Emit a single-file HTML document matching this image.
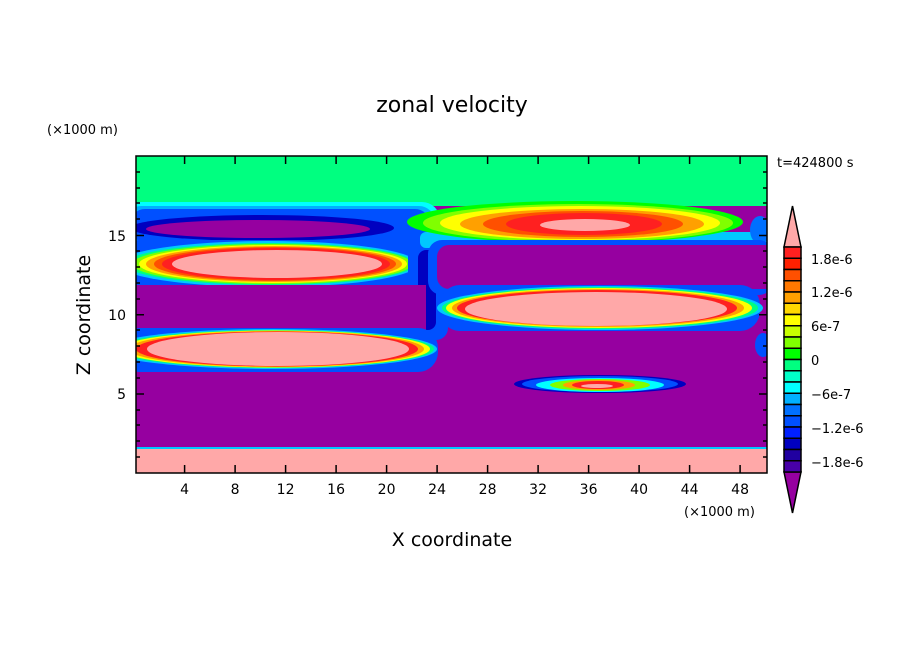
<!DOCTYPE html>
<html><head><meta charset="utf-8"><style>
body{margin:0;background:#fff;}
text{font-family:"DejaVu Sans","Liberation Sans",sans-serif;fill:#000}
</style></head><body>
<svg width="904" height="654" viewBox="0 0 904 654" xmlns="http://www.w3.org/2000/svg">
<defs><clipPath id="c"><rect x="136" y="156" width="631" height="317"/></clipPath></defs>
<g clip-path="url(#c)">
<rect x="136" y="156" width="631" height="317" fill="#9600a0"/>
<!-- top green -->
<rect x="136" y="156" width="631" height="50" fill="#00ff80"/>
<!-- left blue band -->
<rect x="120" y="202" width="320" height="42" rx="18" fill="#00ffff"/>
<rect x="125" y="206" width="310" height="36" rx="16" fill="#00b0ff"/>
<rect x="130" y="209" width="300" height="33" rx="15" fill="#0050ff"/>
<ellipse cx="262" cy="228" rx="132" ry="13" fill="#0000c0"/>
<ellipse cx="258" cy="229" rx="112" ry="9" fill="#9600a0"/>
<!-- left band2 -->
<rect x="120" y="240" width="318" height="48" rx="20" fill="#0050ff"/>
<ellipse cx="268" cy="264" rx="150" ry="23" fill="#00c8ff"/>
<ellipse cx="270" cy="264" rx="145" ry="21" fill="#00ff80"/>
<ellipse cx="272" cy="264" rx="140" ry="20" fill="#80ff00"/>
<ellipse cx="273" cy="264" rx="134" ry="19" fill="#ffff00"/>
<ellipse cx="274" cy="264" rx="128" ry="18" fill="#ffa000"/>
<ellipse cx="275" cy="264" rx="121" ry="17" fill="#ff5000"/>
<ellipse cx="276" cy="264" rx="114" ry="16" fill="#ff2020"/>
<ellipse cx="277" cy="264" rx="105" ry="14" fill="#ffa8a8"/>
<!-- neck -->
<rect x="408" y="240" width="40" height="100" rx="12" fill="#0050ff"/>
<rect x="418" y="250" width="18" height="80" rx="8" fill="#0000c0"/>
<rect x="136" y="285" width="290" height="45" fill="#9600a0"/>
<!-- left band3 -->
<rect x="120" y="328" width="318" height="44" rx="20" fill="#0050ff"/>
<ellipse cx="272" cy="349" rx="165" ry="20" fill="#00c8ff"/>
<ellipse cx="274" cy="349" rx="160" ry="19" fill="#00ff80"/>
<ellipse cx="275" cy="349" rx="155" ry="18.5" fill="#ffff00"/>
<ellipse cx="276" cy="349" rx="148" ry="18" fill="#ffa000"/>
<ellipse cx="277" cy="349" rx="141" ry="17.5" fill="#ff2020"/>
<ellipse cx="278" cy="349" rx="131" ry="17" fill="#ffa8a8"/>
<!-- right top -->
<rect x="420" y="232" width="360" height="16" rx="6" fill="#00c8ff"/>
<ellipse cx="575" cy="222" rx="168" ry="21" fill="#00ff00"/>
<ellipse cx="578" cy="223" rx="155" ry="19" fill="#80ff00"/>
<ellipse cx="580" cy="223" rx="140" ry="17" fill="#ffff00"/>
<ellipse cx="582" cy="224" rx="122" ry="15" fill="#ffa000"/>
<ellipse cx="583" cy="224" rx="100" ry="13" fill="#ff5000"/>
<ellipse cx="584" cy="224" rx="78" ry="11" fill="#ff2020"/>
<ellipse cx="585" cy="225" rx="45" ry="6" fill="#ffa8a8"/>
<ellipse cx="760" cy="230" rx="10" ry="14" fill="#0070ff"/>
<!-- right purple big region -->
<rect x="428" y="240" width="345" height="55" rx="14" fill="#0050ff"/>
<rect x="437" y="245" width="340" height="44" rx="12" fill="#9600a0"/>
<!-- right pink -->
<rect x="440" y="285" width="320" height="46" rx="20" fill="#0050ff"/>
<ellipse cx="600" cy="308" rx="163" ry="22" fill="#00c8ff"/>
<ellipse cx="600" cy="308" rx="158" ry="21" fill="#00ff80"/>
<ellipse cx="599" cy="308" rx="153" ry="20" fill="#ffff00"/>
<ellipse cx="598" cy="308" rx="146" ry="19" fill="#ffa000"/>
<ellipse cx="597" cy="308" rx="140" ry="18" fill="#ff2020"/>
<ellipse cx="596" cy="309" rx="131" ry="17" fill="#ffa8a8"/>
<ellipse cx="763" cy="345" rx="8" ry="12" fill="#0050ff"/>
<!-- small ellipse -->
<ellipse cx="600" cy="384" rx="86" ry="9" fill="#0000c0"/>
<ellipse cx="600" cy="384" rx="78" ry="8" fill="#0050ff"/>
<ellipse cx="600" cy="385" rx="64" ry="7" fill="#00ffff"/>
<ellipse cx="600" cy="385" rx="50" ry="6" fill="#80ff00"/>
<ellipse cx="599" cy="385" rx="36" ry="5" fill="#ffa000"/>
<ellipse cx="598" cy="385" rx="26" ry="4" fill="#ff2020"/>
<ellipse cx="597" cy="386" rx="16" ry="2" fill="#ffa8a8"/>
<!-- bottom -->
<rect x="136" y="447" width="631" height="2" fill="#00c8ff"/>
<rect x="136" y="449" width="631" height="24" fill="#ffa8a8"/>
</g>
<rect x="136" y="156" width="631" height="317" fill="none" stroke="#000" stroke-width="1.5"/>
<g stroke="#000" stroke-width="1.5">
<path d="M184.6 473v-8M235.1 473v-8M285.6 473v-8M336.1 473v-8M386.6 473v-8M437.1 473v-8M487.6 473v-8M538.1 473v-8M588.6 473v-8M639.1 473v-8M689.6 473v-8M740.1 473v-8"/>
<path d="M184.6 156v8M235.1 156v8M285.6 156v8M336.1 156v8M386.6 156v8M437.1 156v8M487.6 156v8M538.1 156v8M588.6 156v8M639.1 156v8M689.6 156v8M740.1 156v8"/>
<path d="M136 394h8M136 314.7h8M136 235.5h8M767 394h-8M767 314.7h-8M767 235.5h-8"/>
<path d="M136 457h4M136 441h4M136 425h4M136 410h4M136 378h4M136 362h4M136 346h4M136 330h4M136 299h4M136 283h4M136 267h4M136 251h4M136 219h4M136 203h4M136 188h4M136 172h4"/>
<path d="M767 457h-4M767 441h-4M767 425h-4M767 410h-4M767 378h-4M767 362h-4M767 346h-4M767 330h-4M767 299h-4M767 283h-4M767 267h-4M767 251h-4M767 219h-4M767 203h-4M767 188h-4M767 172h-4"/>
</g>
<g font-size="14" text-anchor="middle">
<text x="184.6" y="494">4</text><text x="235.1" y="494">8</text><text x="285.6" y="494">12</text><text x="336.1" y="494">16</text><text x="386.6" y="494">20</text><text x="437.1" y="494">24</text><text x="487.6" y="494">28</text><text x="538.1" y="494">32</text><text x="588.6" y="494">36</text><text x="639.1" y="494">40</text><text x="689.6" y="494">44</text><text x="740.1" y="494">48</text>
</g>
<g font-size="14" text-anchor="end">
<text x="126" y="399">5</text><text x="126" y="320">10</text><text x="126" y="241">15</text>
</g>
<text x="452" y="112" font-size="22" text-anchor="middle">zonal velocity</text>
<text x="452" y="546" font-size="19" text-anchor="middle">X coordinate</text>
<text transform="translate(90,315) rotate(-90)" font-size="19" text-anchor="middle">Z coordinate</text>
<text x="47" y="134" font-size="13">(×1000 m)</text>
<text x="684" y="516" font-size="13">(×1000 m)</text>
<text x="777" y="167" font-size="13">t=424800 s</text>
<!-- colorbar -->
<g stroke="#000" stroke-width="1.5">
<polygon points="792.5,206 784,247 801,247" fill="#ffa8a8"/>
<polygon points="792.5,513 784,472 801,472" fill="#9600a0"/>
<rect x="784" y="247" width="17" height="11.25" fill="#ff2020"/>
<rect x="784" y="258.25" width="17" height="11.25" fill="#ff2000"/>
<rect x="784" y="269.5" width="17" height="11.25" fill="#ff5000"/>
<rect x="784" y="280.75" width="17" height="11.25" fill="#ff7800"/>
<rect x="784" y="292" width="17" height="11.25" fill="#ffa000"/>
<rect x="784" y="303.25" width="17" height="11.25" fill="#ffd800"/>
<rect x="784" y="314.5" width="17" height="11.25" fill="#ffff00"/>
<rect x="784" y="325.75" width="17" height="11.25" fill="#c8ff00"/>
<rect x="784" y="337" width="17" height="11.25" fill="#80ff00"/>
<rect x="784" y="348.25" width="17" height="11.25" fill="#00ff00"/>
<rect x="784" y="359.5" width="17" height="11.25" fill="#00ff80"/>
<rect x="784" y="370.75" width="17" height="11.25" fill="#00ffc8"/>
<rect x="784" y="382" width="17" height="11.25" fill="#00ffff"/>
<rect x="784" y="393.25" width="17" height="11.25" fill="#00b0ff"/>
<rect x="784" y="404.5" width="17" height="11.25" fill="#0070ff"/>
<rect x="784" y="415.75" width="17" height="11.25" fill="#0050ff"/>
<rect x="784" y="427" width="17" height="11.25" fill="#0020ff"/>
<rect x="784" y="438.25" width="17" height="11.25" fill="#0000c0"/>
<rect x="784" y="449.5" width="17" height="11.25" fill="#2000a0"/>
<rect x="784" y="460.75" width="17" height="11.25" fill="#4800a8"/>
</g>
<g font-size="13">
<text x="811" y="264">1.8e-6</text><text x="811" y="297">1.2e-6</text><text x="811" y="331">6e-7</text><text x="811" y="365">0</text><text x="811" y="399">−6e-7</text><text x="811" y="433">−1.2e-6</text><text x="811" y="467">−1.8e-6</text>
</g>
</svg>
</body></html>
